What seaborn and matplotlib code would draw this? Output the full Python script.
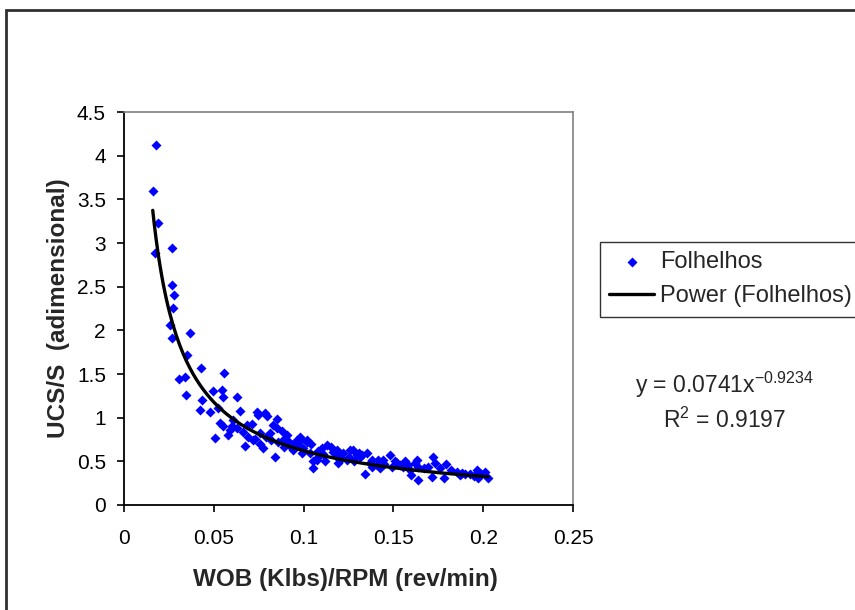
import numpy as np
import pandas as pd
import seaborn as sns
import matplotlib.pyplot as plt
from matplotlib.patches import Rectangle

# pontos (WOB/RPM vs UCS/S)
wob_rpm = [
    0.0178, 0.0160, 0.0191, 0.0173, 0.0269, 0.0269, 0.0280, 0.0275, 0.0256, 0.0269,
    0.0367, 0.0349, 0.0427, 0.0557, 0.0308, 0.0340, 0.0345, 0.0497, 0.0544, 0.0553,
    0.0631, 0.0433, 0.0423, 0.0479, 0.0525, 0.0646, 0.0535, 0.0553, 0.0600, 0.0507,
    0.0609, 0.0683, 0.0748, 0.0785, 0.0674, 0.0720, 0.0757, 0.0841, 0.0739, 0.0794,
    0.0850, 0.0850, 0.0590, 0.1054, 0.1340, 0.0906, 0.0961, 0.0980, 0.1017, 0.0924,
    0.0998, 0.1050, 0.1129, 0.1165, 0.1203, 0.1277, 0.1314, 0.1240, 0.1370, 0.1444,
    0.1480, 0.1407, 0.0813, 0.0729, 0.0776, 0.0985, 0.1017, 0.0961, 0.1100, 0.1184,
    0.1258, 0.1295, 0.1203, 0.1073, 0.1036, 0.0943, 0.0887, 0.1323, 0.1351, 0.1416,
    0.1509, 0.1537, 0.1565, 0.1630, 0.1639, 0.1600, 0.1639, 0.1694, 0.1713, 0.1722,
    0.1732, 0.1793, 0.1852, 0.1899, 0.1964, 0.1973, 0.2010, 0.2028, 0.1379, 0.1425,
    0.1555, 0.1592, 0.1760, 0.1927, 0.1870, 0.1780,
    0.104, 0.108, 0.111, 0.115, 0.118, 0.122, 0.125, 0.128, 0.131, 0.108,
    0.112, 0.119, 0.099, 0.094, 0.089, 0.086, 0.082, 0.079, 0.083, 0.088,
    0.092, 0.066, 0.069, 0.063, 0.058, 0.071, 0.076, 0.138, 0.145, 0.149,
    0.152, 0.158, 0.162, 0.167, 0.182, 0.188, 0.195, 0.199,
]
ucs_s = [
    4.12, 3.60, 3.23, 2.89, 2.94, 2.52, 2.40, 2.26, 2.06, 1.91,
    1.97, 1.72, 1.57, 1.51, 1.44, 1.46, 1.26, 1.30, 1.32, 1.24,
    1.24, 1.20, 1.09, 1.07, 1.11, 1.08, 0.94, 0.90, 0.90, 0.77,
    0.97, 0.92, 1.03, 1.05, 0.67, 0.74, 0.82, 0.55, 1.07, 1.02,
    0.99, 0.88, 0.86, 0.42, 0.36, 0.80, 0.74, 0.78, 0.74, 0.67,
    0.65, 0.50, 0.69, 0.61, 0.55, 0.63, 0.55, 0.52, 0.48, 0.52,
    0.57, 0.46, 0.82, 0.76, 0.65, 0.75, 0.72, 0.69, 0.65, 0.63,
    0.63, 0.57, 0.52, 0.52, 0.59, 0.63, 0.74, 0.57, 0.59, 0.52,
    0.50, 0.46, 0.50, 0.52, 0.44, 0.34, 0.29, 0.44, 0.32, 0.55,
    0.48, 0.47, 0.38, 0.36, 0.40, 0.31, 0.38, 0.31, 0.44, 0.42,
    0.44, 0.40, 0.42, 0.36, 0.34, 0.31,
    0.70, 0.62, 0.58, 0.66, 0.56, 0.60, 0.55, 0.50, 0.60, 0.55,
    0.50, 0.48, 0.60, 0.70, 0.66, 0.72, 0.75, 0.78, 0.92, 0.85,
    0.72, 0.84, 0.78, 0.88, 0.80, 0.93, 0.70, 0.52, 0.47, 0.44,
    0.48, 0.46, 0.48, 0.42, 0.40, 0.37, 0.33, 0.35,
]

# linha de tendência (potência) mostrada no gráfico
coef_a = 0.0741
coef_b = -0.9234
r2 = 0.9197

sns.set_theme(style='white')
plt.rcParams['font.family'] = ['Liberation Sans', 'DejaVu Sans']

df = pd.DataFrame({'x': wob_rpm, 'y': ucs_s})
xfit = np.linspace(min(wob_rpm), max(wob_rpm), 200)
fit = pd.DataFrame({'x': xfit, 'y': coef_a * xfit ** coef_b})

fig = plt.figure(figsize=(8.55, 6.1), dpi=100)
ax = fig.add_axes([124 / 855, 105 / 610, 449 / 855, 393 / 610])

sns.scatterplot(data=df, x='x', y='y', ax=ax, marker='D', s=26, color='#0000FF',
                linewidth=0, label='Folhelhos', zorder=3)
sns.lineplot(data=fit, x='x', y='y', ax=ax, color='black', linewidth=2.4,
             label='Power (Folhelhos)', zorder=4)

ax.set_xlim(0, 0.25)
ax.set_ylim(0, 4.5)
ax.set_xticks([0, 0.05, 0.1, 0.15, 0.2, 0.25])
ax.set_xticklabels(['0', '0.05', '0.1', '0.15', '0.2', '0.25'])
ax.set_yticks(np.arange(0, 4.51, 0.5))
ax.set_yticklabels(['0', '0.5', '1', '1.5', '2', '2.5', '3', '3.5', '4', '4.5'])
ax.tick_params(axis='both', direction='out', length=5, width=1.2, color='black',
               labelsize=15, labelcolor='black', bottom=True, left=True)
ax.tick_params(axis='x', pad=12)
ax.tick_params(axis='y', pad=8)

for side in ['left', 'bottom']:
    ax.spines[side].set_color('black')
    ax.spines[side].set_linewidth(1.3)
for side in ['top', 'right']:
    ax.spines[side].set_color('#808080')
    ax.spines[side].set_linewidth(1.2)

ax.set_xlabel('WOB (Klbs)/RPM (rev/min)', fontsize=17.5, fontweight='bold')
ax.set_ylabel('UCS/S  (adimensional)', fontsize=17.5, fontweight='bold')
ax.xaxis.set_label_coords(0.494, -0.16)
ax.yaxis.set_label_coords(-0.12, 0.5)

leg = ax.legend(loc='upper left', bbox_to_anchor=(600 / 855, 1 - 242 / 610),
                bbox_transform=fig.transFigure, frameon=True, fancybox=False,
                edgecolor='black', fontsize=17, borderpad=0.4, labelspacing=0.5,
                handlelength=1.9, handletextpad=0.25, borderaxespad=0)
leg.get_frame().set_linewidth(1.0)

fig.text(725 / 855, 1 - 385 / 610, r'y = 0.0741x$^{\mathregular{-0.9234}}$',
         ha='center', va='center', fontsize=16.5)
fig.text(725 / 855, 1 - 420 / 610, r'R$^{\mathregular{2}}$ = 0.9197',
         ha='center', va='center', fontsize=16.5)

# moldura da área do gráfico
fig.patches.append(Rectangle((6 / 855, -0.1), 1.2, 1.1 - 10 / 610, transform=fig.transFigure,
                             fill=False, edgecolor='#303030', linewidth=2.0))

fig.savefig('out.png', dpi=100)
